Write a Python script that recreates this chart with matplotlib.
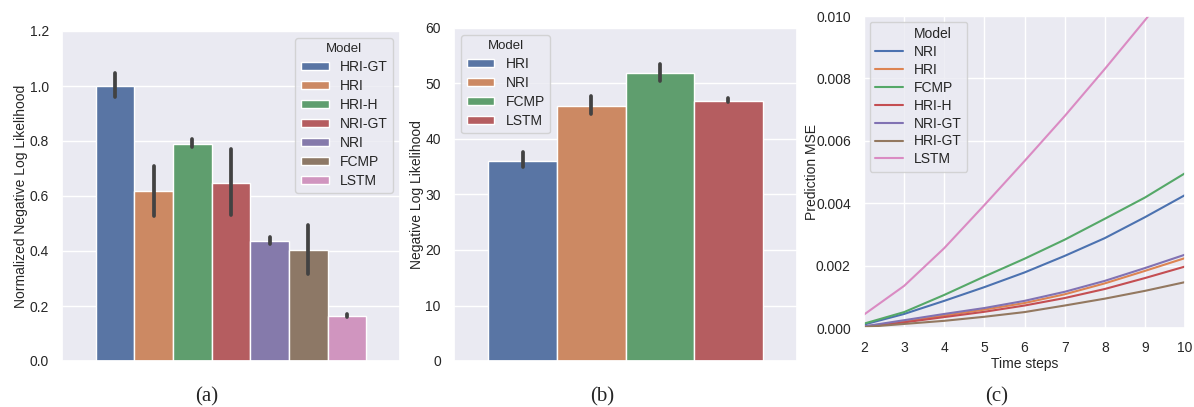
import numpy as np
import seaborn as sns
from matplotlib import pyplot as plt
from matplotlib.lines import Line2D
from matplotlib.ticker import FormatStrFormatter

# (a) normalized NLL
models_a = ['HRI-GT', 'HRI', 'HRI-H', 'NRI-GT', 'NRI', 'FCMP', 'LSTM']
nll_norm = [1.001, 0.617, 0.789, 0.648, 0.438, 0.404, 0.163]
nll_norm_lo = [0.960, 0.527, 0.777, 0.531, 0.425, 0.315, 0.159]
nll_norm_hi = [1.048, 0.710, 0.806, 0.770, 0.452, 0.495, 0.170]

# (b) NLL
models_b = ['HRI', 'NRI', 'FCMP', 'LSTM']
nll = [36.1, 46.0, 51.9, 46.9]
nll_lo = [34.9, 44.5, 50.5, 46.7]
nll_hi = [37.7, 47.8, 53.6, 47.4]

# (c) prediction MSE over time steps
steps = [2, 3, 4, 5, 6, 7, 8, 9, 10]
models_c = ['NRI', 'HRI', 'FCMP', 'HRI-H', 'NRI-GT', 'HRI-GT', 'LSTM']
mse = {
    'NRI':    [0.00011, 0.00045, 0.00087, 0.00131, 0.00178, 0.00231, 0.00288, 0.00355, 0.00426],
    'HRI':    [0.00005, 0.00020, 0.00040, 0.00059, 0.00080, 0.00108, 0.00143, 0.00183, 0.00224],
    'FCMP':   [0.00014, 0.00051, 0.00106, 0.00165, 0.00222, 0.00283, 0.00350, 0.00418, 0.00496],
    'HRI-H':  [0.00003, 0.00018, 0.00035, 0.00052, 0.00072, 0.00096, 0.00125, 0.00160, 0.00197],
    'NRI-GT': [0.00005, 0.00025, 0.00045, 0.00064, 0.00087, 0.00116, 0.00151, 0.00192, 0.00235],
    'HRI-GT': [0.00003, 0.00013, 0.00023, 0.00036, 0.00051, 0.00072, 0.00094, 0.00119, 0.00147],
    'LSTM':   [0.00043, 0.00135, 0.00256, 0.00394, 0.00535, 0.00679, 0.00830, 0.00986, 0.01150],
}

sns.set_theme(style='darkgrid')
plt.rcParams['font.family'] = ['Liberation Sans', 'DejaVu Sans']
plt.rcParams['font.size'] = 10
plt.rcParams['axes.labelsize'] = 10
plt.rcParams['xtick.labelsize'] = 10
plt.rcParams['ytick.labelsize'] = 10
plt.rcParams['legend.fontsize'] = 10
plt.rcParams['legend.labelspacing'] = 0.35

pal = sns.color_palette('deep')
W, H = 1194, 407
fig = plt.figure(figsize=(W / 100, H / 100), dpi=100)


def px_axes(l, t, r, b):
    return fig.add_axes([l / W, 1 - b / H, (r - l) / W, (b - t) / H])


def hue_bars(ax, names, vals, lo, hi):
    n = len(names)
    w = 0.8 / n
    for i, (name, v, a, b) in enumerate(zip(names, vals, lo, hi)):
        x = -0.4 + w * (i + 0.5)
        ax.bar(x, v, width=w, color=sns.desaturate(pal[i], 0.75),
               edgecolor='white', linewidth=1.0, label=name)
        ax.plot([x, x], [a, b], color='.26', lw=2.7, solid_capstyle='round')
    ax.set_xlim(-0.5, 0.5)
    ax.set_xticks([])
    ax.grid(False, axis='x')


ax1 = px_axes(62, 31, 400, 361)
hue_bars(ax1, models_a, nll_norm, nll_norm_lo, nll_norm_hi)
ax1.set_ylim(0, 1.2)
ax1.set_yticks(np.arange(0, 1.21, 0.2))
ax1.yaxis.set_major_formatter(FormatStrFormatter('%.1f'))
ax1.set_ylabel('Normalized Negative Log Likelihood', labelpad=1)
ax1.legend(title='Model', loc='upper right', title_fontsize=9.5,
           handlelength=2.0, handleheight=0.5)

ax2 = px_axes(454, 28, 797, 361)
hue_bars(ax2, models_b, nll, nll_lo, nll_hi)
ax2.set_ylim(0, 60)
ax2.set_yticks(range(0, 61, 10))
ax2.set_ylabel('Negative Log Likelihood', labelpad=1)
ax2.legend(title='Model', loc='upper left', title_fontsize=9.5,
           handlelength=2.0, handleheight=0.5)

ax3 = px_axes(864, 16, 1185, 328)
lines = [Line2D([], [], color='none')]
for i, name in enumerate(models_c):
    ln, = ax3.plot(steps, mse[name], color=pal[i], lw=1.5, label=name)
    lines.append(ln)
ax3.set_xlim(2, 10)
ax3.set_ylim(0, 0.010)
ax3.set_xticks(steps)
ax3.set_yticks(np.arange(0, 0.0101, 0.002))
ax3.yaxis.set_major_formatter(FormatStrFormatter('%.3f'))
ax3.set_xlabel('Time steps', labelpad=1)
ax3.set_ylabel('Prediction MSE', labelpad=-2)
ax3.legend(lines, ['Model'] + models_c, loc='upper left', handlelength=2.0,
           labelspacing=0.28, borderaxespad=0.4)

for x, s in [(207, '(a)'), (602, '(b)'), (997, '(c)')]:
    fig.text(x / W, 1 - 397 / H, s, ha='center', va='center',
             family='Liberation Serif', fontsize=15)

fig.savefig('out.png', dpi=100)
